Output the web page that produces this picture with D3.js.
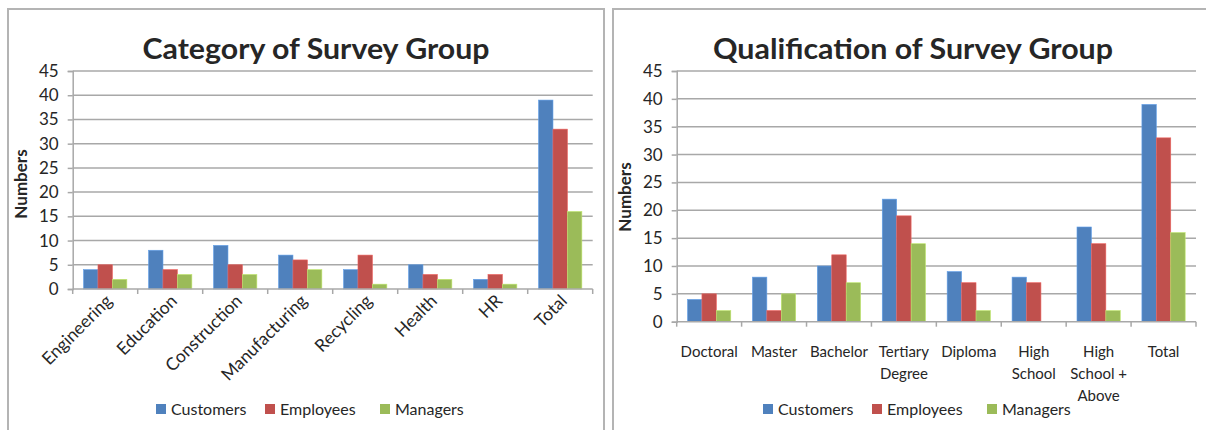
<!DOCTYPE html>
<html>
<head>
<meta charset="utf-8">
<script src="https://cdn.jsdelivr.net/npm/d3@7"></script>
<style>
  html, body { margin: 0; padding: 0; background: #fff; }
  svg { display: block; }
  text { font-family: Lato, "Open Sans", sans-serif; fill: #262626; }
</style>
</head>
<body>
<svg id="chart" width="1206" height="430"></svg>
<script>
// Survey group counts by series
const seriesNames = ["Customers", "Employees", "Managers"];
const seriesColors = ["#4f81bd", "#c0504d", "#9bbb59"];

// Left panel: category of survey group
const categoryLabels = ["Engineering", "Education", "Construction", "Manufacturing", "Recycling", "Health", "HR", "Total"];
const categoryCustomers = [4, 8, 9, 7, 4, 5, 2, 39];
const categoryEmployees = [5, 4, 5, 6, 7, 3, 3, 33];
const categoryManagers  = [2, 3, 3, 4, 1, 2, 1, 16];

// Right panel: qualification of survey group
const qualificationLabels = ["Doctoral", "Master", "Bachelor", "Tertiary Degree", "Diploma", "High School", "High School + Above", "Total"];
const qualificationLines = [["Doctoral"], ["Master"], ["Bachelor"], ["Tertiary", "Degree"], ["Diploma"], ["High", "School"], ["High", "School +", "Above"], ["Total"]];
const qualificationCustomers = [4, 8, 10, 22, 9, 8, 17, 39];
const qualificationEmployees = [5, 2, 12, 19, 7, 7, 14, 33];
const qualificationManagers  = [2, 5, 7, 14, 2, 0, 2, 16];

const yTicks = [0, 5, 10, 15, 20, 25, 30, 35, 40, 45];

const svg = d3.select("#chart");
const gridColor = "#a8a8a8";

function drawPanel(cfg) {
  const g = svg.append("g");

  // frame
  g.append("path")
    .attr("d", `M${cfg.frame[0]},440 V${cfg.frame[2]} H${cfg.frame[1]} V440`)
    .attr("fill", "none").attr("stroke", "#b4b4b4").attr("stroke-width", 2);

  // title
  g.append("text")
    .attr("x", cfg.titleX).attr("y", 59)
    .attr("text-anchor", "middle")
    .attr("font-size", 29).attr("font-weight", 700)
    .attr("fill", "#111")
    .attr("textLength", cfg.titleWidth).attr("lengthAdjust", "spacingAndGlyphs")
    .text(cfg.title);

  const y = d3.scaleLinear().domain([0, 45]).range([cfg.bottom, 71]);
  const x = d3.scaleBand().domain(cfg.labels).range([cfg.left, cfg.right])
    .paddingInner(1 / 3).paddingOuter(1 / 6);
  const xs = d3.scaleBand().domain(seriesNames).range([0, x.bandwidth()]);

  // horizontal gridlines
  g.append("g").selectAll("line").data(yTicks.filter(d => d > 0)).join("line")
    .attr("x1", cfg.left).attr("x2", cfg.right)
    .attr("y1", d => y(d)).attr("y2", d => y(d))
    .attr("stroke", gridColor).attr("stroke-width", 1.5);

  // y axis
  const yAxis = g.append("g")
    .attr("transform", `translate(${cfg.left},0)`)
    .call(d3.axisLeft(y).tickValues(yTicks).tickSize(5).tickPadding(9));
  yAxis.select(".domain").attr("stroke", gridColor).attr("stroke-width", 1.5);
  yAxis.selectAll(".tick line").attr("stroke", gridColor).attr("stroke-width", 1.5);
  yAxis.selectAll(".tick text")
    .attr("font-family", "Lato, sans-serif").attr("font-size", 17).attr("fill", "#262626");

  // bars
  const rows = cfg.labels.map((c, i) => ({ cat: c, vals: cfg.values.map(s => s[i]) }));
  const groups = g.append("g").selectAll("g").data(rows).join("g")
    .attr("transform", d => `translate(${x(d.cat)},0)`);
  groups.selectAll("rect")
    .data(d => d.vals.map((v, k) => ({ name: seriesNames[k], v, k })))
    .join("rect")
    .attr("x", d => xs(d.name))
    .attr("width", xs.bandwidth())
    .attr("y", d => y(d.v))
    .attr("height", d => y(0) - y(d.v))
    .attr("fill", d => seriesColors[d.k])
    .attr("stroke", d => d3.color(seriesColors[d.k]).brighter(0.6))
    .attr("stroke-width", 0.6);

  // x axis line and category ticks
  g.append("line")
    .attr("x1", cfg.left).attr("x2", cfg.right)
    .attr("y1", y(0)).attr("y2", y(0))
    .attr("stroke", gridColor).attr("stroke-width", 1.5);
  const step = x.step();
  g.append("g").selectAll("line").data(d3.range(cfg.labels.length + 1)).join("line")
    .attr("x1", i => cfg.left + i * step).attr("x2", i => cfg.left + i * step)
    .attr("y1", y(0)).attr("y2", y(0) + 5)
    .attr("stroke", gridColor).attr("stroke-width", 1.5);

  // y axis title
  g.append("text")
    .attr("transform", `translate(${cfg.yTitleX},${cfg.yTitleY}) rotate(-90)`)
    .attr("text-anchor", "middle")
    .attr("font-size", 17).attr("font-weight", 700).attr("fill", "#111")
    .text("Numbers");

  cfg.drawLabels(g, x);

  // legend
  const lg = g.append("g").attr("transform", `translate(${cfg.legendX},${cfg.legendY})`);
  const offsets = [0, 109, 224];
  seriesNames.forEach((n, k) => {
    lg.append("rect").attr("x", offsets[k]).attr("y", -11).attr("width", 10).attr("height", 10)
      .attr("fill", seriesColors[k]);
    lg.append("text").attr("x", offsets[k] + 15).attr("y", 0)
      .attr("font-size", 16).attr("fill", "#262626").text(n);
  });
}

drawPanel({
  frame: [8, 604, 9],
  title: "Category of Survey Group", titleX: 316, titleWidth: 347,
  labels: categoryLabels,
  values: [categoryCustomers, categoryEmployees, categoryManagers],
  left: 72.7, right: 592.7, bottom: 289,
  yTitleX: 27, yTitleY: 184,
  legendX: 156, legendY: 415,
  drawLabels: (g, x) => {
    g.append("g").selectAll("text").data(categoryLabels).join("text")
      .attr("transform", d => `translate(${x(d) + x.bandwidth() / 2 + 8},${302}) rotate(-45)`)
      .attr("text-anchor", "end")
      .attr("font-size", 17.5).attr("fill", "#262626")
      .text(d => d);
  }
});

drawPanel({
  frame: [613, 1220, 9],
  title: "Qualification of Survey Group", titleX: 913, titleWidth: 400,
  labels: qualificationLabels,
  values: [qualificationCustomers, qualificationEmployees, qualificationManagers],
  left: 676.7, right: 1196, bottom: 321.7,
  yTitleX: 631, yTitleY: 197,
  legendX: 763, legendY: 415,
  drawLabels: (g, x) => {
    const lab = g.append("g").selectAll("text").data(qualificationLabels).join("text")
      .attr("x", d => x(d) + x.bandwidth() / 2)
      .attr("y", 357)
      .attr("text-anchor", "middle")
      .attr("font-size", 15).attr("fill", "#262626");
    lab.selectAll("tspan").data((d, i) => qualificationLines[i]).join("tspan")
      .attr("x", function () { return this.parentNode.getAttribute("x"); })
      .attr("dy", (d, j) => j === 0 ? 0 : 22)
      .text(d => d);
  }
});
</script>
</body>
</html>
